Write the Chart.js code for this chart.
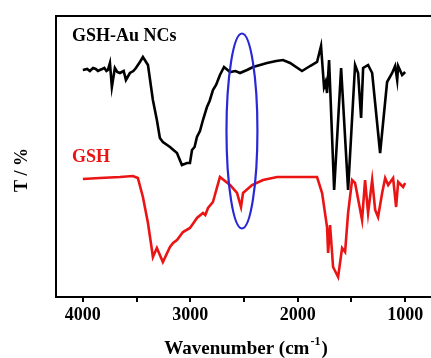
<!DOCTYPE html>
<html>
<head>
<meta charset="utf-8">
<script src="https://cdn.jsdelivr.net/npm/chart.js@4"></script>
<style>
  html, body { margin: 0; padding: 0; background: #fff; overflow: hidden; }
  #wrap { width: 440px; height: 358px; }
</style>
</head>
<body>
<div id="wrap"><canvas id="grafico" width="440" height="358"></canvas></div>
<script>
// espectro GSH-Au NCs (negro)
const auWn = [4000, 3960, 3935, 3905, 3880, 3860, 3842, 3820, 3800, 3780, 3767, 3748, 3730, 3702, 3680, 3655,
  3620, 3599, 3562, 3530, 3506, 3469, 3441, 3394, 3348, 3311, 3283, 3255, 3189, 3124, 3078, 3031, 3003,
  2984, 2960, 2938, 2910, 2882, 2845, 2820, 2789, 2760, 2724, 2686, 2630, 2580, 2537, 2472, 2416, 2350,
  2286, 2200, 2137, 2071, 1960, 1885, 1820, 1783, 1755, 1740, 1727, 1708, 1661, 1596, 1531, 1466, 1438,
  1410, 1391, 1345, 1307, 1233, 1168, 1121, 1093, 1074, 1065, 1028, 1009, 1000];
const auT = [227, 228, 226, 229, 228, 226, 227, 228, 229, 226, 227, 234, 210, 229, 225, 224,
  226, 217, 224, 226, 229, 235, 240, 232, 197, 177, 159, 155, 150, 144, 132, 134, 134,
  147, 150, 160, 166, 177, 190, 196, 207, 212, 222, 230, 225, 226, 224, 227, 230, 232,
  234, 236, 237, 234, 226, 231, 235, 251, 210, 215, 204, 237, 107, 229, 107, 232, 224,
  179, 229, 232, 224, 144, 215, 224, 231, 217, 231, 222, 224, 225];

// espectro GSH (rojo)
const gshWn = [4000, 3842, 3655, 3534, 3488, 3441, 3394, 3357, 3348, 3311, 3255, 3189, 3160, 3124, 3068, 3003,
  2970, 2938, 2882, 2860, 2835, 2789, 2724, 2630, 2565, 2528, 2509, 2425, 2323, 2192, 1885, 1820, 1773, 1727, 1717,
  1699, 1680, 1671, 1624, 1587, 1559, 1531, 1494, 1466, 1401, 1373, 1345, 1307, 1279, 1252, 1214, 1186,
  1158, 1112, 1084, 1065, 1019, 1000];
const gshT = [118, 119, 120, 121, 119, 100, 74, 47, 40, 49, 35, 50, 54, 57, 65, 69,
  74, 79, 84, 82, 89, 95, 120, 112, 104, 90, 104, 112, 117, 120, 120, 120, 104, 70, 44,
  72, 44, 30, 20, 49, 45, 84, 117, 114, 77, 117, 84, 117, 87, 80, 104, 119,
  112, 119, 90, 115, 110, 114];

const xTicks = [4000, 3000, 2000, 1000];

// elipse azul que marca la banda S-H
const elipseCentro = [2519, 166];
const elipseRadio = [144, 97.5];

const serif = "'Liberation Serif', 'Times New Roman', serif";

const puntos = (wn, t) => wn.map((w, i) => ({ x: w, y: t[i] }));

const extras = {
  id: "extras",
  afterDatasetsDraw(chart) {
    const { ctx, chartArea: a, scales: { x, y } } = chart;
    ctx.save();

    // elipse
    const cx = x.getPixelForValue(elipseCentro[0]);
    const cy = y.getPixelForValue(elipseCentro[1]);
    const rx = Math.abs(x.getPixelForValue(elipseCentro[0] - elipseRadio[0]) - cx);
    const ry = Math.abs(y.getPixelForValue(elipseCentro[1] + elipseRadio[1]) - cy);
    ctx.strokeStyle = "rgb(40,40,215)";
    ctx.lineWidth = 2.2;
    ctx.beginPath();
    ctx.ellipse(cx, cy, rx, ry, 0, 0, Math.PI * 2);
    ctx.stroke();

    // marco
    ctx.strokeStyle = "#000";
    ctx.lineWidth = 2;
    ctx.strokeRect(a.left, a.top, a.right - a.left, a.bottom - a.top);

    // etiquetas de series
    ctx.font = "bold 18px " + serif;
    ctx.textBaseline = "alphabetic";
    ctx.textAlign = "left";
    ctx.fillStyle = "#000";
    ctx.fillText("GSH-Au NCs", 72, 41);
    ctx.fillStyle = "rgb(235,20,20)";
    ctx.fillText("GSH", 72, 162);

    // titulo eje x
    ctx.fillStyle = "#000";
    ctx.font = "bold 19px " + serif;
    const p1 = "Wavenumber (cm";
    const w1 = ctx.measureText(p1).width;
    ctx.font = "bold 12px " + serif;
    const w2 = ctx.measureText("-1").width;
    ctx.font = "bold 19px " + serif;
    const w3 = ctx.measureText(")").width;
    let sx = 245 - (w1 + w2 + w3) / 2;
    ctx.fillText(p1, sx, 354);
    ctx.font = "bold 12px " + serif;
    ctx.fillText("-1", sx + w1 + 1, 345);
    ctx.font = "bold 19px " + serif;
    ctx.fillText(")", sx + w1 + w2 + 2, 354);

    // titulo eje y
    ctx.translate(22, 170);
    ctx.rotate(-Math.PI / 2);
    ctx.textAlign = "center";
    ctx.textBaseline = "middle";
    ctx.font = "bold 18px " + serif;
    ctx.fillText("T / %", 0, 0);
    ctx.restore();
  }
};

new Chart(document.getElementById("grafico"), {
  type: "line",
  data: {
    datasets: [
      {
        label: "GSH",
        data: puntos(gshWn, gshT),
        borderColor: "rgb(235,20,20)",
        borderWidth: 2.6,
        pointRadius: 0,
        tension: 0
      },
      {
        label: "GSH-Au NCs",
        data: puntos(auWn, auT),
        borderColor: "#000",
        borderWidth: 2.6,
        pointRadius: 0,
        tension: 0
      }
    ]
  },
  options: {
    responsive: false,
    animation: false,
    layout: { padding: { left: 56, top: 16, right: 8, bottom: 0 } },
    plugins: {
      legend: { display: false },
      tooltip: { enabled: false }
    },
    scales: {
      x: {
        type: "linear",
        reverse: true,
        min: 750,
        max: 4250,
        afterFit(scale) { scale.height = 61; },
        afterBuildTicks(scale) {
          scale.ticks = [];
          for (let v = 1000; v <= 4000; v += 500) scale.ticks.push({ value: v });
        },
        ticks: {
          autoSkip: false,
          maxRotation: 0,
          padding: 3,
          color: "#000",
          font: { family: serif, size: 18, weight: "bold" },
          callback: (v) => (xTicks.includes(v) ? String(v) : "")
        },
        grid: {
          display: true,
          drawOnChartArea: false,
          drawTicks: true,
          tickLength: 5,
          color: "#000",
          lineWidth: 2
        },
        border: { display: false }
      },
      y: {
        display: false,
        min: 0,
        max: 281
      }
    }
  },
  plugins: [extras]
});
</script>
</body>
</html>
